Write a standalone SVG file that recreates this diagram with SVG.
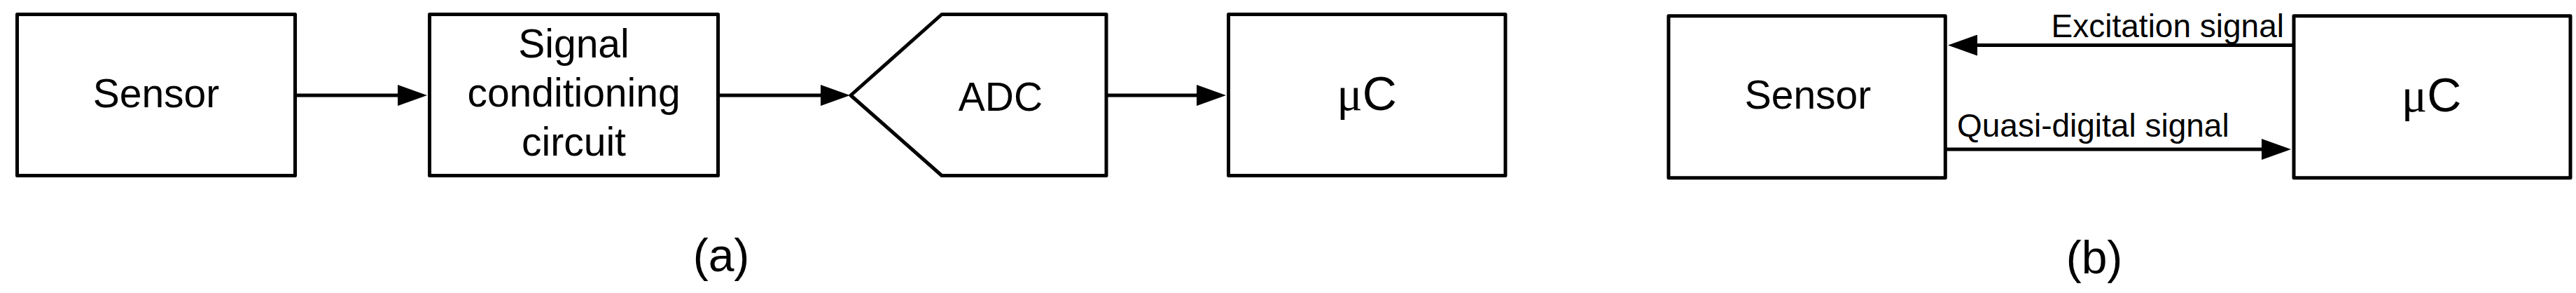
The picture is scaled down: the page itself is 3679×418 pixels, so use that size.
<svg xmlns="http://www.w3.org/2000/svg" width="3679" height="418" viewBox="0 0 3679 418">
<style>
.box{fill:#fff;stroke:#000;stroke-width:5;stroke-linejoin:round}
.ln{stroke:#000;stroke-width:5;fill:none}
.t{font-family:"Liberation Sans",Arial,sans-serif;font-size:57px;fill:#000;text-anchor:middle}
.mu{font-family:"Liberation Sans",Arial,sans-serif;font-size:68px;fill:#000;text-anchor:middle}
.sym{font-family:"Liberation Serif","Times New Roman",serif}
.lab{font-family:"Liberation Sans",Arial,sans-serif;font-size:46px;fill:#000}
.cap{font-family:"Liberation Sans",Arial,sans-serif;font-size:66px;fill:#000;text-anchor:middle}
</style>
<defs>
<marker id="arr" markerUnits="userSpaceOnUse" markerWidth="42" markerHeight="30" viewBox="0 0 42 30" refX="1" refY="15" orient="auto">
<path d="M0,0 L42,15 L0,30 Z" fill="#000"/>
</marker>
</defs>
<rect width="3679" height="418" fill="#fff"/>
<g id="connectors">
<line class="ln" x1="421" y1="136" x2="569" y2="136" marker-end="url(#arr)"/>
<line class="ln" x1="1026" y1="136" x2="1173" y2="136" marker-end="url(#arr)"/>
<line class="ln" x1="1580" y1="136" x2="1710" y2="136" marker-end="url(#arr)"/>
<line class="ln" x1="3276" y1="64.5" x2="2823" y2="64.5" marker-end="url(#arr)"/>
<line class="ln" x1="2778" y1="213" x2="3231" y2="213" marker-end="url(#arr)"/>
</g>
<g id="sensor-a">
<rect class="box" x="24.5" y="20.5" width="397" height="230"/>
<text class="t" x="223" y="153">Sensor</text>
</g>
<g id="signal-conditioning">
<rect class="box" x="613.5" y="20.5" width="412" height="230"/>
<text class="t" x="819.5" y="81.7">Signal</text>
<text class="t" x="819.5" y="151.7">conditioning</text>
<text class="t" x="819.5" y="221.7">circuit</text>
</g>
<g id="adc">
<path class="box" d="M1215,136 L1345,20.5 L1580,20.5 L1580,250.5 L1345,250.5 Z"/>
<text class="t" x="1429" y="158.3">ADC</text>
</g>
<g id="uc-a">
<rect class="box" x="1754.5" y="20.5" width="395.5" height="230"/>
<text class="mu" x="1952" y="156.5"><tspan class="sym">μ</tspan>C</text>
</g>
<g id="sensor-b">
<rect class="box" x="2383" y="22.8" width="395.3" height="231"/>
<text class="t" x="2582" y="155">Sensor</text>
</g>
<g id="uc-b">
<rect class="box" x="3276" y="22.8" width="395" height="231"/>
<text class="mu" x="3472.5" y="159">
<tspan class="sym">μ</tspan>C</text>
</g>
<g id="labels">
<text class="lab" x="3262" y="53.3" text-anchor="end">Excitation signal</text>
<text class="lab" x="2795" y="195">Quasi-digital signal</text>
<text class="cap" x="1030" y="387.3">(a)</text>
<text class="cap" x="2991" y="390">(b)</text>
</g>
</svg>
